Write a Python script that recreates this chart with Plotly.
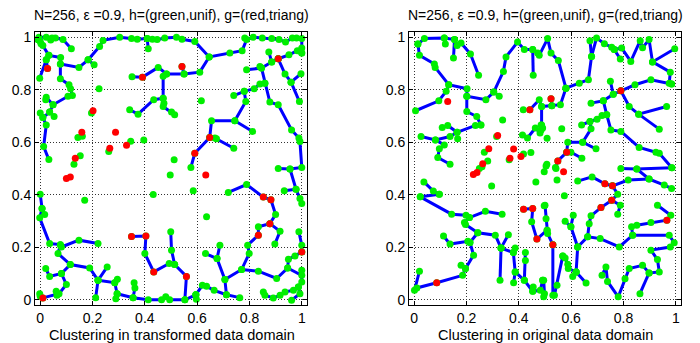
import plotly.graph_objects as go

TITLE = "N=256, \u03b5 =0.9, h=(green,unif), g=(red,triang)"
XLABELS = ["Clustering in transformed data domain", "Clustering in original data domain"]
TICKS = [0, 0.2, 0.4, 0.6, 0.8, 1]
TICKTEXT = ["0", "0.2", "0.4", "0.6", "0.8", "1"]

# ---------------- left panel (transformed domain) ----------------
left_branches = [
    [(-0.005,1.0),(0.023,1.0),(0.045,0.997),(0.058,0.997),(0.087,0.991),(0.119,0.956)],
    [(0.0,0.984),(0.010,0.969),(0.033,0.931),(0.078,0.923),(0.077,0.898),(0.148,0.885),(0.183,0.914),(0.227,0.965),(0.240,0.988),(0.304,1.0),(0.349,0.995),(0.371,0.992),(0.409,0.995),(0.429,0.992),(0.447,0.991),(0.476,0.997),(0.521,1.0),(0.542,0.992),(0.591,0.984),(0.646,0.925),(0.725,0.940),(0.772,0.949),(0.789,0.991),(0.814,1.0),(0.849,0.997),(0.885,0.995),(0.913,0.991),(0.938,0.982),(0.964,0.997),(0.980,0.997),(1.0,0.995),(1.0,0.959),(1.0,0.940)],
    [(0.409,0.995),(0.413,0.956)],
    [(0.033,0.931),(0.023,0.914),(-0.002,0.844)],
    [(0.023,0.914),(0.028,0.881)],
    [(0.183,0.914),(0.206,0.895)],
    [(0.077,0.898),(0.077,0.842),(0.110,0.819),(0.116,0.804),(0.123,0.778),(0.106,0.775),(0.049,0.743),(0.036,0.715),(0.010,0.694),(0.023,0.666),(0.013,0.584),(0.033,0.534)],
    [(0.023,0.771),(0.049,0.743)],
    [(0.036,0.715),(0.053,0.698)],
    [(0.0,0.711),(0.010,0.694)],
    [(0.351,0.850),(0.391,0.848),(0.451,0.885),(0.483,0.860),(0.550,0.860),(0.610,0.867),(0.646,0.925)],
    [(0.542,0.889),(0.550,0.860)],
    [(0.483,0.860),(0.470,0.851),(0.470,0.768),(0.434,0.762),(0.374,0.707),(0.342,0.724)],
    [(0.470,0.768),(0.473,0.749),(0.470,0.736),(0.502,0.715),(0.514,0.705)],
    [(0.910,0.918),(0.951,0.933),(0.983,0.949),(1.0,0.940)],
    [(0.910,0.918),(0.885,0.906),(0.874,0.944)],
    [(0.885,0.906),(0.846,0.883),(0.789,0.876)],
    [(0.846,0.883),(0.859,0.825),(0.878,0.753),(0.910,0.743),(0.961,0.647),(0.989,0.616),(0.993,0.603),(1.0,0.504),(0.955,0.498),(0.910,0.500)],
    [(0.910,0.918),(0.936,0.860),(0.959,0.829),(0.997,0.861)],
    [(0.959,0.829),(0.991,0.755)],
    [(0.859,0.825),(0.840,0.822),(0.818,0.804),(0.780,0.794),(0.740,0.778)],
    [(0.780,0.794),(0.786,0.755),(0.744,0.682),(0.655,0.682),(0.648,0.618),(0.591,0.558),(0.576,0.504)],
    [(0.744,0.682),(0.812,0.641)],
    [(0.648,0.618),(0.668,0.616),(0.674,0.613),(0.740,0.577)],
    [(0.0,0.402),(0.007,0.348),(-0.002,0.312),(0.036,0.214),(0.077,0.210),(0.081,0.201),(0.148,0.227),(0.221,0.214)],
    [(0.007,0.348),(0.017,0.325)],
    [(0.077,0.210),(0.068,0.176),(0.115,0.134),(0.189,0.121),(0.221,0.074),(0.256,0.125)],
    [(0.221,0.074),(0.212,0.008)],
    [(0.221,0.074),(0.285,0.065),(0.295,0.078)],
    [(0.285,0.065),(0.294,0.023),(0.289,0.004)],
    [(0.294,0.023),(0.355,0.008),(0.413,0.0),(0.464,0.0),(0.480,0.011),(0.495,0.0),(0.553,0.0),(0.595,0.019)],
    [(0.355,0.008),(0.362,0.045),(0.359,0.065)],
    [(0.115,0.134),(0.081,0.100),(0.036,0.089),(0.021,0.119)],
    [(0.081,0.100),(0.100,0.058),(0.072,0.023),(0.010,0.007)],
    [(0.349,0.241),(0.404,0.243),(0.400,0.176),(0.434,0.106),(0.493,0.138),(0.514,0.134)],
    [(0.499,0.259),(0.502,0.189),(0.514,0.134),(0.559,0.089),(0.553,0.0)],
    [(0.955,0.498),(0.978,0.421),(0.993,0.386),(1.0,0.367)],
    [(0.978,0.421),(0.933,0.415)],
    [(0.719,0.409),(0.789,0.439),(0.853,0.391),(0.882,0.381),(0.900,0.325),(0.878,0.290),(0.834,0.278),(0.834,0.246),(0.793,0.208),(0.799,0.176),(0.770,0.115),(0.706,0.077),(0.676,0.157),(0.687,0.208)],
    [(0.676,0.157),(0.632,0.176)],
    [(0.706,0.077),(0.712,0.019),(0.763,0.008)],
    [(0.712,0.019),(0.665,0.036),(0.636,0.051),(0.620,0.055),(0.595,0.019)],
    [(0.595,0.019),(0.597,0.002)],
    [(0.878,0.290),(0.917,0.261),(0.897,0.212)],
    [(0.770,0.115),(0.834,0.109),(0.904,0.081),(0.946,0.121),(0.949,0.154),(0.974,0.167),(1.0,0.182)],
    [(1.0,0.182),(1.0,0.208),(0.989,0.259)],
    [(0.946,0.121),(1.0,0.093),(1.0,0.068),(0.987,0.049),(0.993,0.023),(0.961,-0.002)],
    [(0.853,0.030),(0.859,0.017),(0.891,0.007),(0.917,0.017),(0.936,0.030),(0.968,0.036),(0.987,0.049)],
]
left_green_single = [(0.225,0.804),(0.196,0.711),(0.144,0.618),(0.161,0.623),(0.262,0.565),(0.346,0.604),
    (0.396,0.609),(0.153,0.549),(0.129,0.516),(0.616,0.758),(0.512,0.533),(0.170,0.379),(0.432,0.401),
    (0.497,0.475),(0.585,0.415),(0.636,0.316),(0.061,0.032),(0.064,0.017),(-0.002,0.023),(0.0,0.013),
    (-0.009,0.991),(0.040,0.990),(0.782,0.997),(0.840,0.889),(0.021,0.762),(1.0,0.112),(0.003,0.975)]
left_red = [(0.028,0.881),(0.202,0.720),(0.159,0.638),(0.288,0.638),(0.266,0.577),(0.330,0.589),(0.134,0.539),
    (0.391,0.848),(0.542,0.889),(0.910,0.918),(0.648,0.618),(0.591,0.558),(0.100,0.462),(0.115,0.468),
    (0.010,0.007),(0.349,0.241),(0.404,0.243),(0.434,0.106),(0.559,0.089),(0.633,0.475),(0.853,0.391),
    (0.882,0.381),(0.878,0.290),(0.834,0.246),(1.0,0.182)]

# ---------------- right panel (original domain) ----------------
right_branches = [
    [(0.014,0.974),(0.039,0.995),(0.115,0.997),(0.154,0.991),(0.164,0.969),(0.179,0.978),(0.215,0.936),(0.246,0.855)],
    [(0.115,0.997),(0.119,0.974)],
    [(0.154,0.991),(0.150,0.921)],
    [(0.014,0.974),(0.020,0.931),(0.077,0.898),(0.080,0.885),(0.132,0.819),(0.202,0.804),(0.201,0.775),(0.274,0.762),(0.304,0.791),(0.341,0.870),(0.351,0.925),(0.395,0.982),(0.421,0.953),(0.453,0.953),(0.472,0.940),(0.478,0.931),(0.510,0.995),(0.523,0.940),(0.551,0.911),(0.580,0.806)],
    [(0.453,0.953),(0.455,0.855)],
    [(0.304,0.791),(0.325,0.775)],
    [(0.132,0.819),(0.122,0.794),(0.094,0.758),(0.005,0.720)],
    [(0.201,0.775),(0.201,0.717),(0.239,0.698),(0.255,0.666)],
    [(0.255,0.666),(0.234,0.664),(0.164,0.638),(0.137,0.622),(0.081,0.609),(0.026,0.622)],
    [(0.107,0.656),(0.128,0.664),(0.164,0.638)],
    [(0.081,0.609),(0.115,0.590),(0.096,0.575),(0.090,0.542),(0.137,0.516)],
    [(0.442,0.724),(0.478,0.762),(0.487,0.736),(0.526,0.739),(0.559,0.743),(0.580,0.806)],
    [(0.526,0.739),(0.523,0.766)],
    [(0.487,0.736),(0.487,0.666),(0.491,0.654),(0.481,0.635),(0.463,0.654),(0.433,0.616),(0.414,0.628)],
    [(0.580,0.806),(0.631,0.825),(0.666,0.838),(0.678,0.927),(0.672,0.987)],
    [(0.678,0.927),(0.697,0.997),(0.727,0.975),(0.755,0.962),(0.765,0.953),(0.793,0.959),(0.828,0.908),(0.864,0.987),(0.873,0.960),(0.898,0.991),(0.911,0.906),(0.996,0.956)],
    [(0.765,0.953),(0.788,0.917)],
    [(0.911,0.906),(0.979,0.867),(0.975,0.825),(0.984,0.822)],
    [(0.984,0.822),(0.905,0.838),(0.844,0.819),(0.790,0.796),(0.761,0.783),(0.723,0.758),(0.676,0.749)],
    [(0.761,0.783),(0.750,0.832)],
    [(0.790,0.796),(0.822,0.736),(0.858,0.707),(0.965,0.736)],
    [(0.858,0.707),(0.937,0.650)],
    [(0.723,0.758),(0.736,0.705),(0.718,0.702),(0.699,0.688),(0.672,0.679),(0.640,0.666)],
    [(0.672,0.679),(0.676,0.651),(0.644,0.600),(0.587,0.600),(0.583,0.562),(0.549,0.529),(0.540,0.504)],
    [(0.644,0.600),(0.695,0.575)],
    [(0.583,0.562),(0.599,0.562),(0.641,0.539)],
    [(0.736,0.705),(0.752,0.647),(0.790,0.641),(0.860,0.580),(0.924,0.562),(0.937,0.558),(0.985,0.503)],
    [(0.790,0.500),(0.851,0.498),(0.985,0.503)],
    [(0.037,0.449),(0.073,0.414),(0.096,0.402)],
    [(0.023,0.392),(0.096,0.402)],
    [(0.023,0.392),(0.143,0.326),(0.198,0.322),(0.211,0.313),(0.272,0.337),(0.336,0.326)],
    [(0.211,0.313),(0.192,0.294),(0.196,0.287),(0.243,0.255),(0.310,0.246),(0.332,0.197),(0.360,0.248)],
    [(0.332,0.197),(0.328,0.074)],
    [(0.332,0.197),(0.379,0.180),(0.386,0.197)],
    [(0.379,0.180),(0.386,0.106),(0.380,0.065)],
    [(0.386,0.106),(0.421,0.074),(0.453,0.032),(0.482,0.036),(0.491,0.074)],
    [(0.453,0.032),(0.455,0.049)],
    [(0.421,0.074),(0.425,0.150),(0.425,0.180)],
    [(0.243,0.255),(0.213,0.218),(0.205,0.223),(0.137,0.212),(0.112,0.243)],
    [(0.213,0.218),(0.227,0.170),(0.196,0.119),(0.179,0.131)],
    [(0.196,0.119),(0.185,0.093),(0.086,0.065),(0.010,0.045),(0.001,0.036),(0.020,0.109)],
    [(0.418,0.345),(0.453,0.348),(0.449,0.297),(0.469,0.231),(0.508,0.265)],
    [(0.625,0.452),(0.680,0.468),(0.729,0.442),(0.758,0.434),(0.818,0.456),(0.898,0.460),(0.956,0.437),(0.984,0.424)],
    [(0.898,0.460),(0.851,0.498)],
    [(0.758,0.434),(0.778,0.402),(0.755,0.379),(0.714,0.351),(0.676,0.320),(0.669,0.290),(0.663,0.240),(0.625,0.201)],
    [(0.755,0.379),(0.788,0.360),(0.778,0.326)],
    [(0.625,0.201),(0.599,0.278),(0.608,0.322)],
    [(0.577,0.299),(0.599,0.278)],
    [(0.663,0.240),(0.711,0.233),(0.784,0.201),(0.835,0.246),(0.975,0.246),(0.994,0.217),(0.979,0.201),(0.905,0.189),(0.930,0.153),(0.937,0.106),(0.898,0.102),(0.873,0.131),(0.822,0.119),(0.806,0.080),(0.780,0.011),(0.739,0.070),(0.733,0.125),(0.718,0.093)],
    [(0.898,0.102),(0.863,0.023)],
    [(0.835,0.246),(0.831,0.278),(0.851,0.284),(0.905,0.294),(0.966,0.303),(0.981,0.322),(0.930,0.360)],
    [(0.625,0.201),(0.619,0.106),(0.606,0.089)],
    [(0.619,0.106),(0.657,0.064)],
    [(0.568,0.167),(0.577,0.159),(0.587,0.135),(0.589,0.119),(0.619,0.106)],
    [(0.530,0.210),(0.530,0.017)],
    [(0.568,0.167),(0.546,0.055),(0.536,0.017)],
    [(0.500,0.360),(0.504,0.309),(0.508,0.265),(0.510,0.252),(0.530,0.210)],
    [(0.491,0.074),(0.495,0.074),(0.498,0.023),(0.495,0.011)],
]
right_green_single = [(0.338,0.685),(0.268,0.562),(0.281,0.529),(0.259,0.507),(0.315,0.622),(0.363,0.533),
    (0.418,0.555),(0.446,0.561),(0.564,0.651),(0.507,0.516),(0.249,0.500),(0.465,0.449),(0.296,0.433),
    (0.497,0.488),(0.504,0.510),(0.542,0.500),(0.546,0.456),(0.574,0.396),(0.417,0.724),(0.166,0.613),
    (0.485,0.666),(0.485,0.647),(0.508,0.615),(0.497,0.358)]
right_red = [(0.128,0.755),(0.319,0.626),(0.285,0.575),(0.262,0.518),(0.380,0.574),(0.366,0.539),(0.408,0.546),
    (0.442,0.724),(0.523,0.766),(0.790,0.796),(0.583,0.562),(0.549,0.529),(0.226,0.477),(0.240,0.485),
    (0.086,0.065),(0.418,0.345),(0.453,0.348),(0.469,0.231),(0.571,0.488),(0.729,0.442),(0.758,0.434),
    (0.755,0.379),(0.714,0.351),(0.966,0.303),(0.530,0.210)]

BLUE, GREEN, RED = "#0000FF", "#00EE00", "#FF0000"

fig = go.Figure()

def add_panel(branches, singles, reds, xa, ya):
    lx, ly = [], []
    for br in branches:
        for (x, y) in br:
            lx.append(x); ly.append(y)
        lx.append(None); ly.append(None)
    fig.add_trace(go.Scatter(x=lx, y=ly, mode="lines", line=dict(color=BLUE, width=3),
                             xaxis=xa, yaxis=ya, hoverinfo="skip", showlegend=False))
    gx = [p[0] for br in branches for p in br] + [p[0] for p in singles]
    gy = [p[1] for br in branches for p in br] + [p[1] for p in singles]
    fig.add_trace(go.Scatter(x=gx, y=gy, mode="markers", marker=dict(color=GREEN, size=7),
                             xaxis=xa, yaxis=ya, showlegend=False))
    fig.add_trace(go.Scatter(x=[p[0] for p in reds], y=[p[1] for p in reds], mode="markers",
                             marker=dict(color=RED, size=7), xaxis=xa, yaxis=ya, showlegend=False))

add_panel(left_branches, left_green_single, left_red, "x", "y")
add_panel(right_branches, right_green_single, right_red, "x2", "y2")

FONT = "Liberation Sans, Arial, Helvetica, sans-serif"
ax_common = dict(range=[-0.02, 1.02], tickvals=TICKS, ticktext=TICKTEXT, ticks="inside", ticklen=4,
                 tickcolor="black", showline=True, linecolor="black", linewidth=1, mirror="ticks",
                 showgrid=True, gridcolor="#333", griddash="1px,2px", gridwidth=1, zeroline=False,
                 automargin=False,
                 tickfont=dict(family=FONT, size=14, color="black"), fixedrange=True)

ydom = [38/343, 311/343]
fig.update_layout(
    width=700, height=343, margin=dict(l=0, r=0, t=0, b=0, autoexpand=False),
    paper_bgcolor="white", plot_bgcolor="white",
    xaxis=dict(domain=[35/700, 307/700], anchor="y", **ax_common),
    yaxis=dict(domain=ydom, anchor="x", **ax_common),
    xaxis2=dict(domain=[409/700, 681/700], anchor="y2", **ax_common),
    yaxis2=dict(domain=ydom, anchor="x2", **ax_common),
)

for cx, xl in zip([171.5/700, 545.5/700], XLABELS):
    fig.add_annotation(text=TITLE, x=cx, y=1 - 15/343, xref="paper", yref="paper", showarrow=False,
                       font=dict(family=FONT, size=14, color="black"), xanchor="center", yanchor="middle")
    fig.add_annotation(text=xl, x=cx, y=1 - 335/343, xref="paper", yref="paper", showarrow=False,
                       font=dict(family=FONT, size=14.5, color="black"), xanchor="center", yanchor="middle")

fig.write_html("out.html", config={"displayModeBar": False},
               post_script="document.body.style.margin='0px';document.body.style.overflow='hidden';")
